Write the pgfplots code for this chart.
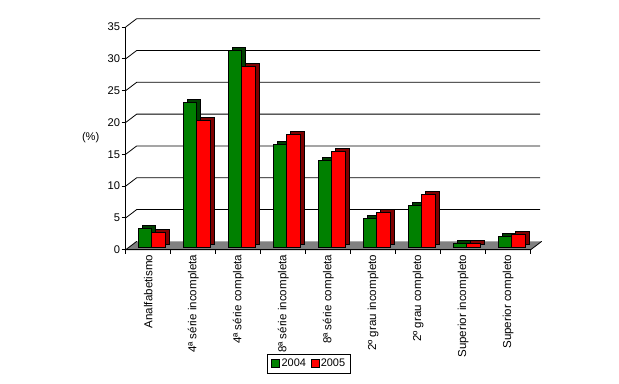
\documentclass[border=0pt]{standalone}
\usepackage{pgfplots}
\usepackage{pgfplotstable}
\pgfplotsset{compat=1.18}
\usepackage{fontspec}
\setmainfont{Liberation Sans}
\definecolor{gfront}{RGB}{0,128,0}
\definecolor{gside}{RGB}{0,64,0}
\definecolor{rfront}{RGB}{255,0,0}
\definecolor{rside}{RGB}{128,0,0}
\definecolor{floorgray}{RGB}{128,128,128}

\pgfplotstableread{
x    g     r
0.5  3.0   2.3
1.5  22.8  19.9
2.5  30.9  28.4
3.5  16.2  17.7
4.5  13.7  15.1
5.5  4.6   5.5
6.5  6.6   8.3
7.5  0.6   0.6
8.5  1.7   2.0
}\data

\begin{document}
\begin{tikzpicture}[font=\fontsize{11.2}{12}\selectfont]
\begin{axis}[
  set layers,
  at={(0,0)}, anchor=south west,
  scale only axis, width=405bp, height=222.7bp,
  xmin=0, xmax=9, ymin=0, ymax=35,
  axis x line=bottom, axis y line=left,
  axis line style={-, line width=0.8bp, black},
  ytick={0,5,...,35},
  xtick={0.5,1.5,...,8.5},
  xticklabels={Analfabetismo, 4ª série incompleta, 4ª série completa, 8ª série incompleta, 8ª série completa, 2º grau incompleto, 2º grau completo, Superior incompleto, Superior completo},
  x tick style={draw=none},
  y tick style={black, line width=0.8bp},
  tick align=outside, major tick length=4bp,
  yticklabel style={font=\fontsize{11.2}{12}\selectfont, inner sep=1.5bp},
  /pgf/number format/assume math mode=true,
  xticklabel style={rotate=90, anchor=east, inner sep=1bp, font=\fontsize{11.6}{12}\selectfont},
  clip=false,
  legend style={at={(axis description cs:0.4526,-0.511)}, anchor=center, draw=black, line width=0.8bp,
    legend columns=2,
    nodes={inner xsep=1.5bp, inner ysep=2bp},
    /tikz/every even column/.append style={column sep=3bp},
    inner xsep=4bp, inner ysep=3bp, font=\fontsize{11}{12}\selectfont},
]
\begin{pgfonlayer}{axis background}
  \pgfplotsinvokeforeach{5,10,...,35}{
    \draw[line width=0.8bp] (axis cs:0,#1) -- ([shift={(11bp,8.3bp)}]axis cs:0,#1) -- ([shift={(9.5bp,8.3bp)}]axis cs:9,#1);
  }
  \fill[floorgray] (axis cs:0,0) -- ([shift={(11bp,8.3bp)}]axis cs:0,0) -- ([shift={(11bp,8.3bp)}]axis cs:9,0) -- (axis cs:9,0) -- cycle;
  \draw[line width=0.8bp] ([shift={(11bp,8.3bp)}]axis cs:0,0) -- (axis cs:0,0) -- (axis cs:9,0) -- ([shift={(11bp,8.3bp)}]axis cs:9,0);
\end{pgfonlayer}
\pgfplotsinvokeforeach{0,...,9}{
  \draw[line width=0.8bp] (axis cs:#1,0) -- ++(0,-4bp);
}
% 2004
\addplot[ybar, bar width=13.3bp, bar shift=-6.65bp, xshift=7.5bp, yshift=5.4bp, fill=gside, draw=black, line width=0.6bp, forget plot] table[x=x, y=g] {\data};
\addplot[ybar, bar width=13.3bp, bar shift=-6.65bp, xshift=3.5bp, yshift=2.4bp, fill=gfront, draw=black, line width=0.8bp, forget plot] table[x=x, y=g] {\data};
% 2005
\addplot[ybar, bar width=13.3bp, bar shift=6.65bp, xshift=7.5bp, yshift=5.4bp, fill=rside, draw=black, line width=0.6bp, forget plot] table[x=x, y=r] {\data};
\addplot[ybar, bar width=13.3bp, bar shift=6.65bp, xshift=3.5bp, yshift=2.4bp, fill=rfront, draw=black, line width=0.8bp, forget plot] table[x=x, y=r] {\data};
\addlegendimage{legend image code/.code={\draw[fill=gfront,draw=black,line width=0.8bp] (0bp,-4bp) rectangle (8bp,4bp);}}
\addlegendentry{2004}
\addlegendimage{legend image code/.code={\draw[fill=rfront,draw=black,line width=0.8bp] (0bp,-4bp) rectangle (8bp,4bp);}}
\addlegendentry{2005}
\node[font=\fontsize{11.2}{12}\selectfont] at ([xshift=-35bp]axis cs:0,17.55) {(\%)};
\end{axis}
\path (-125.7bp,-134.3bp) rectangle (493.3bp,249.7bp);
\end{tikzpicture}
\end{document}
